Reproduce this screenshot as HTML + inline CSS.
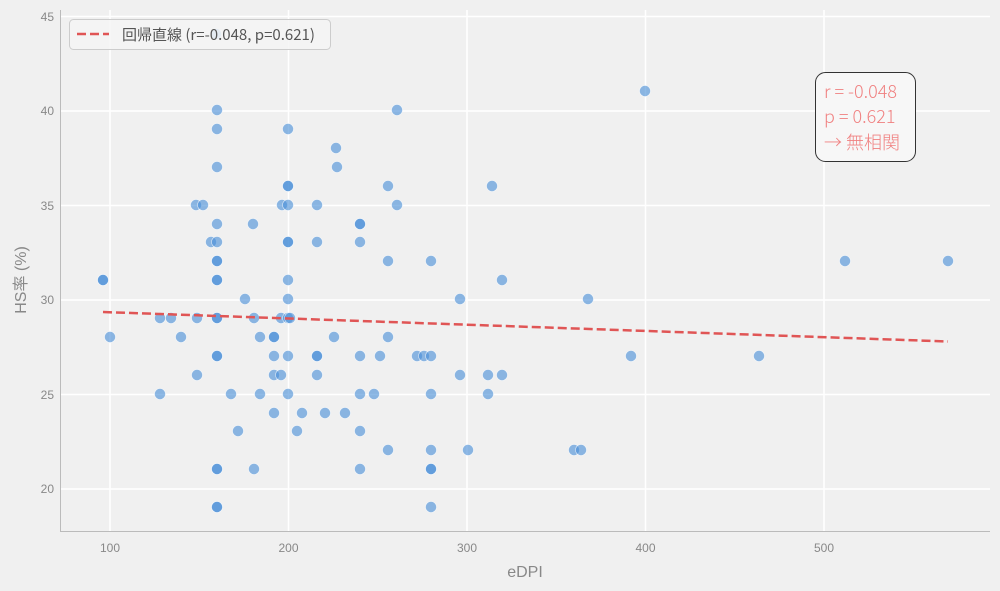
<!DOCTYPE html>
<html><head><meta charset="utf-8"><style>
body{margin:0;background:#f0f0f0;}
svg{display:block;font-family:"Liberation Sans","Noto Sans CJK JP",sans-serif;}
</style></head><body>
<svg width="1000" height="591" viewBox="0 0 1000 591">
<rect width="1000" height="591" fill="#f0f0f0"/>
<g stroke="#ffffff" stroke-width="1.5">
<line x1="110" y1="10" x2="110" y2="531"/><line x1="288.5" y1="10" x2="288.5" y2="531"/><line x1="467" y1="10" x2="467" y2="531"/><line x1="645.5" y1="10" x2="645.5" y2="531"/><line x1="824" y1="10" x2="824" y2="531"/>
<line x1="60" y1="16.5" x2="990" y2="16.5"/><line x1="60" y1="111" x2="990" y2="111"/><line x1="60" y1="205.5" x2="990" y2="205.5"/><line x1="60" y1="300" x2="990" y2="300"/><line x1="60" y1="394.5" x2="990" y2="394.5"/><line x1="60" y1="489" x2="990" y2="489"/>
</g>
<g stroke="#bbbbbb" stroke-width="1"><line x1="60.5" y1="10" x2="60.5" y2="531"/><line x1="60" y1="531.5" x2="990" y2="531.5"/></g>
<g fill="#888" font-size="12" text-anchor="middle">
<text x="110" y="552">100</text><text x="288.5" y="552">200</text><text x="467" y="552">300</text><text x="645.5" y="552">400</text><text x="824" y="552">500</text>
</g>
<g fill="#888" font-size="12" text-anchor="end">
<text x="54" y="21">45</text><text x="54" y="115">40</text><text x="54" y="210">35</text><text x="54" y="304">30</text><text x="54" y="399">25</text><text x="54" y="493">20</text>
</g>
<text x="525" y="577" fill="#888" font-size="16" text-anchor="middle">eDPI</text>
<text transform="translate(26,280) rotate(-90)" fill="#888" font-size="16" text-anchor="middle">HS率 (%)</text>
<g fill="#4a90d9" fill-opacity="0.62" stroke="#ffffff" stroke-opacity="0.7" stroke-width="0.6">
<circle cx="103" cy="280" r="5.5"/><circle cx="103" cy="280" r="5.5"/><circle cx="110" cy="337" r="5.5"/><circle cx="160" cy="318" r="5.5"/><circle cx="160" cy="394" r="5.5"/><circle cx="171" cy="318" r="5.5"/><circle cx="181" cy="337" r="5.5"/><circle cx="211" cy="242" r="5.5"/>
<circle cx="217" cy="110" r="5.5"/><circle cx="217" cy="129" r="5.5"/><circle cx="217" cy="167" r="5.5"/><circle cx="217" cy="224" r="5.5"/><circle cx="217" cy="242" r="5.5"/><circle cx="217" cy="261" r="5.5"/><circle cx="217" cy="261" r="5.5"/><circle cx="217" cy="280" r="5.5"/><circle cx="217" cy="280" r="5.5"/><circle cx="217" cy="318" r="5.5"/><circle cx="217" cy="318" r="5.5"/><circle cx="217" cy="356" r="5.5"/><circle cx="217" cy="356" r="5.5"/><circle cx="217" cy="469" r="5.5"/><circle cx="217" cy="469" r="5.5"/><circle cx="217" cy="507" r="5.5"/><circle cx="217" cy="507" r="5.5"/><circle cx="216" cy="34" r="5.5"/>
<circle cx="231" cy="394" r="5.5"/><circle cx="238" cy="431" r="5.5"/><circle cx="245" cy="299" r="5.5"/><circle cx="253" cy="224" r="5.5"/><circle cx="254" cy="318" r="5.5"/><circle cx="254" cy="469" r="5.5"/><circle cx="260" cy="337" r="5.5"/><circle cx="260" cy="394" r="5.5"/>
<circle cx="274" cy="337" r="5.5"/><circle cx="274" cy="337" r="5.5"/><circle cx="274" cy="356" r="5.5"/><circle cx="274" cy="375" r="5.5"/><circle cx="274" cy="413" r="5.5"/><circle cx="281" cy="375" r="5.5"/><circle cx="281" cy="318" r="5.5"/><circle cx="282" cy="205" r="5.5"/>
<circle cx="288" cy="129" r="5.5"/><circle cx="288" cy="186" r="5.5"/><circle cx="288" cy="186" r="5.5"/><circle cx="288" cy="205" r="5.5"/><circle cx="288" cy="242" r="5.5"/><circle cx="288" cy="242" r="5.5"/><circle cx="288" cy="280" r="5.5"/><circle cx="288" cy="299" r="5.5"/><circle cx="288" cy="318" r="5.5"/><circle cx="288" cy="356" r="5.5"/><circle cx="288" cy="394" r="5.5"/><circle cx="290" cy="318" r="5.5"/>
<circle cx="297" cy="431" r="5.5"/><circle cx="302" cy="413" r="5.5"/><circle cx="317" cy="205" r="5.5"/><circle cx="317" cy="242" r="5.5"/><circle cx="317" cy="356" r="5.5"/><circle cx="317" cy="356" r="5.5"/><circle cx="317" cy="375" r="5.5"/><circle cx="325" cy="413" r="5.5"/><circle cx="334" cy="337" r="5.5"/><circle cx="336" cy="148" r="5.5"/><circle cx="337" cy="167" r="5.5"/><circle cx="345" cy="413" r="5.5"/>
<circle cx="360" cy="224" r="5.5"/><circle cx="360" cy="224" r="5.5"/><circle cx="360" cy="242" r="5.5"/><circle cx="360" cy="356" r="5.5"/><circle cx="360" cy="394" r="5.5"/><circle cx="360" cy="431" r="5.5"/><circle cx="360" cy="469" r="5.5"/><circle cx="374" cy="394" r="5.5"/><circle cx="380" cy="356" r="5.5"/>
<circle cx="388" cy="186" r="5.5"/><circle cx="388" cy="261" r="5.5"/><circle cx="388" cy="337" r="5.5"/><circle cx="388" cy="450" r="5.5"/><circle cx="397" cy="110" r="5.5"/><circle cx="397" cy="205" r="5.5"/><circle cx="417" cy="356" r="5.5"/><circle cx="424" cy="356" r="5.5"/>
<circle cx="431" cy="261" r="5.5"/><circle cx="431" cy="356" r="5.5"/><circle cx="431" cy="394" r="5.5"/><circle cx="431" cy="450" r="5.5"/><circle cx="431" cy="469" r="5.5"/><circle cx="431" cy="469" r="5.5"/><circle cx="431" cy="507" r="5.5"/>
<circle cx="460" cy="299" r="5.5"/><circle cx="460" cy="375" r="5.5"/><circle cx="468" cy="450" r="5.5"/><circle cx="488" cy="375" r="5.5"/><circle cx="488" cy="394" r="5.5"/><circle cx="492" cy="186" r="5.5"/><circle cx="502" cy="280" r="5.5"/><circle cx="502" cy="375" r="5.5"/>
<circle cx="574" cy="450" r="5.5"/><circle cx="581" cy="450" r="5.5"/><circle cx="588" cy="299" r="5.5"/><circle cx="631" cy="356" r="5.5"/><circle cx="645" cy="91" r="5.5"/><circle cx="759" cy="356" r="5.5"/><circle cx="845" cy="261" r="5.5"/><circle cx="948" cy="261" r="5.5"/>
<circle cx="196" cy="205" r="5.5"/><circle cx="197" cy="318" r="5.5"/><circle cx="197" cy="375" r="5.5"/><circle cx="203" cy="205" r="5.5"/>
</g>
<line x1="103" y1="312" x2="948" y2="341.5" stroke="#e05555" stroke-width="2.5" stroke-dasharray="9,4"/>
<rect x="69.5" y="19.5" width="261" height="30" rx="4" fill="#f4f4f4" fill-opacity="0.85" stroke="#cccccc"/>
<line x1="77" y1="34" x2="109" y2="34" stroke="#e05555" stroke-width="2.5" stroke-dasharray="9,4"/>
<text x="122" y="40" fill="#555" font-size="15" font-family="Noto Sans CJK JP, sans-serif">回帰直線 (r=-0.048, p=0.621)</text>
<rect x="815.5" y="72.5" width="100" height="89" rx="10" fill="#f7f7f7" stroke="#333" stroke-width="1"/>
<g fill="#f08080" font-size="18" font-family="Noto Sans CJK JP, sans-serif" font-weight="300"><text x="824" y="98">r = -0.048</text><text x="824" y="123">p = 0.621</text><text x="824" y="149">→ 無相関</text></g>
</svg>
</body></html>
